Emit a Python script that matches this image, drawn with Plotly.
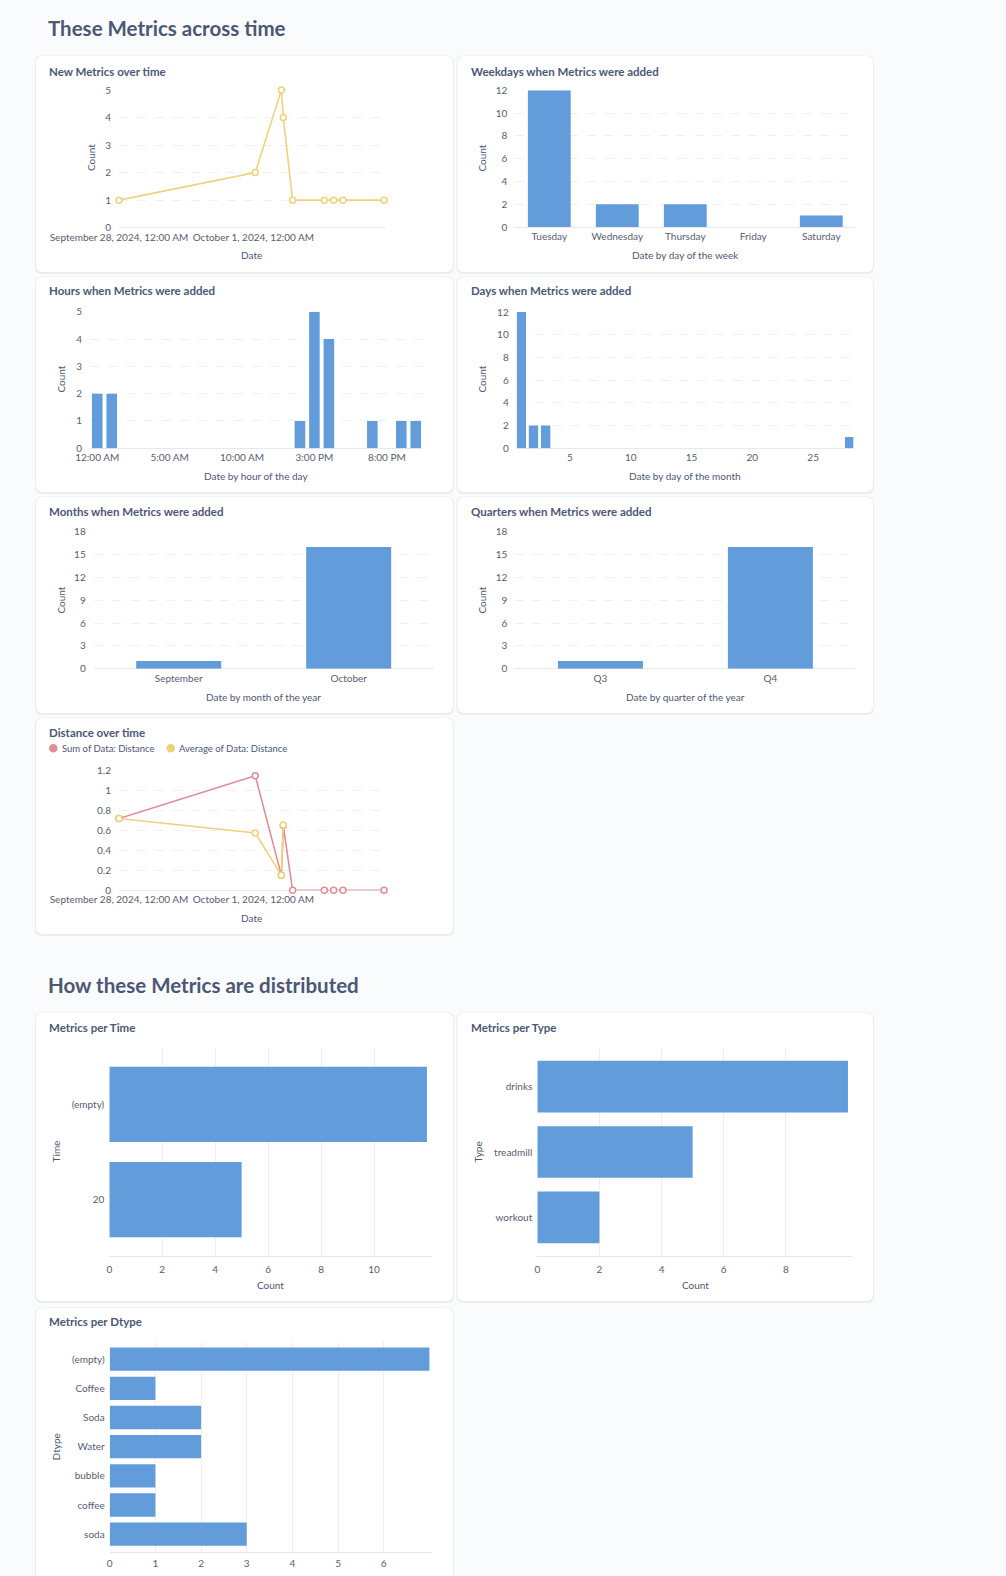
import plotly.graph_objects as go

W, H = 1006, 1576

# ---------------- data ----------------
new_metric_times = ["2024-09-28 00:00", "2024-10-01 01:00", "2024-10-01 15:00", "2024-10-01 16:00",
                    "2024-10-01 21:00", "2024-10-02 14:00", "2024-10-02 19:00", "2024-10-03 00:00",
                    "2024-10-03 22:00"]
new_metric_counts = [1, 2, 5, 4, 1, 1, 1, 1, 1]
date_tickvals = ["2024-09-28 00:00", "2024-10-01 00:00"]
date_ticktext = ["September 28, 2024, 12:00 AM", "October 1, 2024, 12:00 AM"]

weekdays = ["Tuesday", "Wednesday", "Thursday", "Friday", "Saturday"]
weekday_counts = [12, 2, 2, 0, 1]

hours = [0, 1, 14, 15, 16, 19, 21, 22]
hour_counts = [2, 2, 1, 5, 4, 1, 1, 1]
hour_tickvals = [0, 5, 10, 15, 20]
hour_ticktext = ["12:00 AM", "5:00 AM", "10:00 AM", "3:00 PM", "8:00 PM"]

days = [1, 2, 3, 28]
day_counts = [12, 2, 2, 1]

months = ["September", "October"]
month_counts = [1, 16]

quarters = ["Q3", "Q4"]
quarter_counts = [1, 16]

distance_sum = [0.72, 1.15, 0.15, 0.65, 0, 0, 0, 0, 0]
distance_avg = [0.72, 0.575, 0.15, 0.655, None, None, None, None, None]

time_cats = ["(empty)", "20"]
time_counts = [12, 5]
type_cats = ["drinks", "treadmill", "workout"]
type_counts = [10, 5, 2]
dtype_cats = ["(empty)", "Coffee", "Soda", "Water", "bubble", "coffee", "soda"]
dtype_counts = [7, 1, 2, 2, 1, 1, 3]

# ---------------- style ----------------
FONT = "Lato"
BG = "#f9fbfc"
DARK = "#4c5773"
TICK = "#565d70"
BLUE = "#639cdb"
YELLOW = "#eed27a"
RED = "#de8e98"
GRID = "#eef0f3"


def px(x):
    return x / W


def py(y):
    return 1 - y / H


fig = go.Figure()
layout = dict(
    width=W, height=H, margin=dict(l=0, r=0, t=0, b=0, autoexpand=False),
    paper_bgcolor=BG, plot_bgcolor="rgba(0,0,0,0)",
    showlegend=False, font=dict(family=FONT, size=10, color=TICK),
    shapes=[], annotations=[],
)


def axis_names(i):
    s = "" if i == 1 else str(i)
    return "xaxis" + s, "yaxis" + s, "x" + s, "y" + s


def add_axes(i, xdom, ydom, xopt, yopt):
    xa, ya, xr, yr = axis_names(i)
    base = dict(showline=False, zeroline=False, ticks="", fixedrange=True, automargin=False,
                tickfont=dict(family=FONT, size=10, color=TICK))
    bx = dict(base)
    bx.update(domain=[px(xdom[0]), px(xdom[1])], anchor=yr)
    bx.update(xopt)
    by = dict(base)
    by.update(domain=[py(ydom[1]), py(ydom[0])], anchor=xr)
    by.update(yopt)
    layout[xa] = bx
    layout[ya] = by
    return xr, yr


def card(x0, y0, x1, y1, r=7):
    def path(a0, b0, a1, b1):
        return (f"M {px(a0 + r)} {py(b0)} L {px(a1 - r)} {py(b0)} Q {px(a1)} {py(b0)} {px(a1)} {py(b0 + r)} "
                f"L {px(a1)} {py(b1 - r)} Q {px(a1)} {py(b1)} {px(a1 - r)} {py(b1)} "
                f"L {px(a0 + r)} {py(b1)} Q {px(a0)} {py(b1)} {px(a0)} {py(b1 - r)} "
                f"L {px(a0)} {py(b0 + r)} Q {px(a0)} {py(b0)} {px(a0 + r)} {py(b0)} Z")
    layout["shapes"].append(dict(type="path", xref="paper", yref="paper", layer="below",
                                 path=path(x0 - 1, y0 - 0.5, x1 + 1, y1 + 2),
                                 fillcolor="rgba(40,50,80,0.07)", line=dict(width=0)))
    layout["shapes"].append(dict(type="path", xref="paper", yref="paper", layer="below",
                                 path=path(x0, y0, x1, y1),
                                 fillcolor="white", line=dict(width=0)))


def text(x, y, s, size=10, color=DARK, weight=400, anchor="center", angle=0):
    layout["annotations"].append(dict(
        x=px(x), y=py(y), xref="paper", yref="paper", text=s, showarrow=False,
        xanchor=anchor, yanchor="middle", textangle=angle,
        font=dict(family=FONT, size=size, color=color, weight=weight)))


def title(x, y, s):
    text(x - 2, y, s, size=11.5, color=DARK, weight=700, anchor="left")


# ---------------- cards & headings ----------------
LX0, LX1 = 36, 453
RX0, RX1 = 457.5, 873
rows = [(56, 272), (277, 492), (497, 713), (718, 934)]
for (a, b) in rows[:3]:
    card(LX0, a, LX1, b)
    card(RX0, a, RX1, b)
card(LX0, rows[3][0], LX1, rows[3][1])
card(LX0, 1013, LX1, 1301)
card(RX0, 1013, RX1, 1301)
card(LX0, 1308, LX1, 1610)

text(45.5, 28, "These Metrics across time", size=20.5, color=DARK, weight=700, anchor="left")
text(46, 985, "How these Metrics are distributed", size=20.5, color=DARK, weight=700, anchor="left")

vgrid = dict(showgrid=True, gridcolor=GRID, griddash="dash", gridwidth=1,
             zeroline=True, zerolinecolor="#e6e8ec", zerolinewidth=1, ticklabelstandoff=7)
hgrid = dict(showgrid=True, gridcolor="#eceef1", gridwidth=1)

# 1. New Metrics over time
xr, yr = add_axes(1, (119, 385), (90, 227.7),
                  dict(type="date", range=["2024-09-28 00:00", "2024-10-03 22:30"], showgrid=False,
                       tickvals=date_tickvals, ticktext=date_ticktext, ticklabelstandoff=2),
                  dict(range=[0, 5], dtick=1, **vgrid))
fig.add_trace(go.Scatter(x=new_metric_times, y=new_metric_counts, xaxis=xr, yaxis=yr, mode="lines+markers",
                         line=dict(color=YELLOW, width=1.6), cliponaxis=False,
                         marker=dict(size=6, color="white", line=dict(color=YELLOW, width=1.5))))
title(49, 71, "New Metrics over time")
text(91, 158, "Count", angle=-90)
text(251, 255, "Date")

# 2. Weekdays
xr, yr = add_axes(2, (515.3, 855.3), (90.3, 227),
                  dict(type="category", categoryarray=weekdays, range=[-0.5, 4.5], showgrid=False,
                       ticklabelstandoff=2),
                  dict(range=[0, 12], dtick=2, **vgrid))
fig.add_trace(go.Bar(x=weekdays, y=weekday_counts, xaxis=xr, yaxis=yr, width=0.63,
                     marker=dict(color=BLUE, line=dict(width=0))))
title(471, 71, "Weekdays when Metrics were added")
text(481.5, 158, "Count", angle=-90)
text(685, 255, "Date by day of the week")

# 3. Hours
xr, yr = add_axes(3, (90, 423), (311.7, 448.3),
                  dict(range=[-0.5, 22.5], showgrid=False, tickvals=hour_tickvals, ticktext=hour_ticktext,
                       ticklabelstandoff=2),
                  dict(range=[0, 5], dtick=1, **vgrid))
fig.add_trace(go.Bar(x=hours, y=hour_counts, xaxis=xr, yaxis=yr, width=0.73,
                     marker=dict(color=BLUE, line=dict(width=0))))
title(49, 290.5, "Hours when Metrics were added")
text(60.5, 379, "Count", angle=-90)
text(255.5, 476.5, "Date by hour of the day")

# 4. Days
xr, yr = add_axes(4, (516.7, 853.3), (312, 448.3),
                  dict(range=[0.62, 28.3], showgrid=False, tickvals=[5, 10, 15, 20, 25], ticklabelstandoff=2),
                  dict(range=[0, 12], dtick=2, **vgrid))
fig.add_trace(go.Bar(x=days, y=day_counts, xaxis=xr, yaxis=yr, width=0.77,
                     marker=dict(color=BLUE, line=dict(width=0))))
title(471, 290.5, "Days when Metrics were added")
text(481.5, 379, "Count", angle=-90)
text(685, 476.5, "Date by day of the month")

# 5. Months
xr, yr = add_axes(5, (93.7, 433.7), (531.7, 668.7),
                  dict(type="category", categoryarray=months, range=[-0.5, 1.5], showgrid=False,
                       ticklabelstandoff=2),
                  dict(range=[0, 18], dtick=3, **vgrid))
fig.add_trace(go.Bar(x=months, y=month_counts, xaxis=xr, yaxis=yr, width=0.5,
                     marker=dict(color=BLUE, line=dict(width=0))))
title(49, 511.5, "Months when Metrics were added")
text(60.5, 600, "Count", angle=-90)
text(263.5, 697, "Date by month of the year")

# 6. Quarters
xr, yr = add_axes(6, (515.4, 855.4), (531.7, 668.7),
                  dict(type="category", categoryarray=quarters, range=[-0.5, 1.5], showgrid=False,
                       ticklabelstandoff=2),
                  dict(range=[0, 18], dtick=3, **vgrid))
fig.add_trace(go.Bar(x=quarters, y=quarter_counts, xaxis=xr, yaxis=yr, width=0.5,
                     marker=dict(color=BLUE, line=dict(width=0))))
title(471, 511.5, "Quarters when Metrics were added")
text(481.5, 600, "Count", angle=-90)
text(685, 697, "Date by quarter of the year")

# 7. Distance over time
xr, yr = add_axes(7, (119, 385), (770.7, 890.3),
                  dict(type="date", range=["2024-09-28 00:00", "2024-10-03 22:30"], showgrid=False,
                       tickvals=date_tickvals, ticktext=date_ticktext, ticklabelstandoff=2),
                  dict(range=[0, 1.2], dtick=0.2, tickformat="~g", **vgrid))
fig.add_trace(go.Scatter(x=new_metric_times, y=distance_sum, xaxis=xr, yaxis=yr, mode="lines+markers",
                         line=dict(color=RED, width=1.6), cliponaxis=False,
                         marker=dict(size=6, color="white", line=dict(color=RED, width=1.5))))
fig.add_trace(go.Scatter(x=new_metric_times, y=distance_avg, xaxis=xr, yaxis=yr, mode="lines+markers",
                         line=dict(color=YELLOW, width=1.6), cliponaxis=False,
                         marker=dict(size=6, color="white", line=dict(color=YELLOW, width=1.5))))
title(49, 732.5, "Distance over time")
for cx, col, lab in [(53.3, RED, "Sum of Data: Distance"), (170.7, YELLOW, "Average of Data: Distance")]:
    layout["shapes"].append(dict(type="circle", xref="paper", yref="paper",
                                 x0=px(cx - 4.3), x1=px(cx + 4.3), y0=py(748.3 + 4.3), y1=py(748.3 - 4.3),
                                 fillcolor=col, line=dict(width=0)))
    text(cx + 6.5, 748.5, lab, size=9.5, color=DARK, anchor="left")
text(251.5, 918, "Date")

# 8. Metrics per Time
xr, yr = add_axes(8, (109.3, 431.7), (1048.3, 1255.7),
                  dict(range=[0, 12.18], tickvals=[0, 2, 4, 6, 8, 10], showline=True, linecolor="#e3e6ea",
                       ticklabelstandoff=4, **hgrid),
                  dict(type="category", categoryarray=time_cats, range=[1.59, -0.59], showgrid=False,
                       ticklabelstandoff=4))
fig.add_trace(go.Bar(y=time_cats, x=time_counts, xaxis=xr, yaxis=yr, orientation="h", width=0.79,
                     marker=dict(color=BLUE, line=dict(width=0))))
title(49, 1027.3, "Metrics per Time")
text(55.7, 1151.7, "Time", angle=-90)
text(270.5, 1285, "Count")

# 9. Metrics per Type
xr, yr = add_axes(9, (537.3, 851.7), (1048.3, 1255.7),
                  dict(range=[0, 10.12], tickvals=[0, 2, 4, 6, 8], showline=True, linecolor="#e3e6ea",
                       ticklabelstandoff=4, **hgrid),
                  dict(type="category", categoryarray=type_cats, range=[2.585, -0.585], showgrid=False,
                       ticklabelstandoff=4))
fig.add_trace(go.Bar(y=type_cats, x=type_counts, xaxis=xr, yaxis=yr, orientation="h", width=0.79,
                     marker=dict(color=BLUE, line=dict(width=0))))
title(471, 1027.3, "Metrics per Type")
text(477.7, 1151.7, "Type", angle=-90)
text(695, 1285, "Count")

# 10. Metrics per Dtype
xr, yr = add_axes(10, (109.7, 431.7), (1341.7, 1551.7),
                  dict(range=[0, 7.05], tickvals=[0, 1, 2, 3, 4, 5, 6], showline=True, linecolor="#e3e6ea",
                       ticklabelstandoff=2, **hgrid),
                  dict(type="category", categoryarray=dtype_cats, range=[6.6, -0.6], showgrid=False,
                       ticklabelstandoff=4))
fig.add_trace(go.Bar(y=dtype_cats, x=dtype_counts, xaxis=xr, yaxis=yr, orientation="h", width=0.8,
                     marker=dict(color=BLUE, line=dict(width=0))))
title(49, 1321.7, "Metrics per Dtype")
text(55.7, 1446.7, "Dtype", angle=-90)

fig.update_layout(**layout)
fig.write_html("out.html", config={"displayModeBar": False},
               post_script="document.body.style.margin='0';document.body.style.overflow='hidden';")
